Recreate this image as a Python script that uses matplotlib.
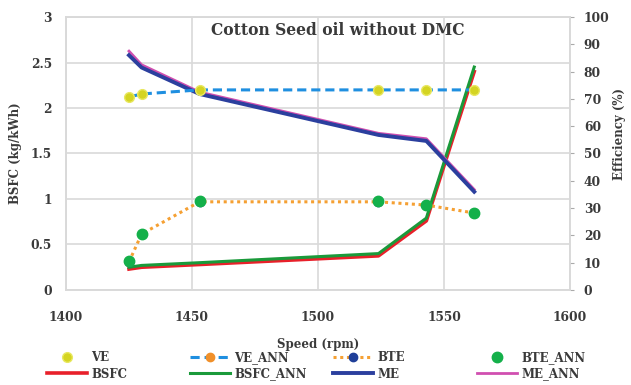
import matplotlib
matplotlib.use("Agg")
import matplotlib.pyplot as plt

speed = [1425, 1430, 1453, 1524, 1543, 1562]
ve = [70.7, 71.8, 73.3, 73.3, 73.3, 73.3]
ve_ann = [70.7, 71.8, 73.3, 73.3, 73.3, 73.3]
bte = [10.3, 20.5, 32.3, 32.3, 31.1, 28.2]
bte_ann = [10.5, 20.6, 32.5, 32.5, 31.2, 28.3]
bsfc = [0.23, 0.25, 0.28, 0.375, 0.76, 2.40]
bsfc_ann = [0.25, 0.27, 0.30, 0.40, 0.79, 2.45]
me = [86.0, 81.5, 71.8, 56.8, 54.6, 36.0]
me_ann = [87.5, 82.5, 72.5, 57.4, 55.4, 36.8]

title = "Cotton Seed oil without DMC"
plt.rcParams['font.family'] = ['DejaVu Serif']
plt.rcParams['font.weight'] = 'bold'
txt_c = '#3a3a3a'

fig = plt.figure(figsize=(6.31, 3.85), dpi=100)
ax = fig.add_axes([0.1046, 0.2468, 0.7987, 0.709])
ax2 = ax.twinx()

grid_c = '#d9d9d9'
ax.set_xlim(1400, 1600)
ax.set_ylim(0, 3)
ax2.set_ylim(0, 100)
ax.set_xticks([1400, 1450, 1500, 1550, 1600])
ax.set_yticks([0, 0.5, 1, 1.5, 2, 2.5, 3])
ax.set_yticklabels(['0', '0.5', '1', '1.5', '2', '2.5', '3'])
ax2.set_yticks(range(0, 101, 10))
ax.grid(True, color=grid_c, lw=1.2)
ax.set_axisbelow(True)
for a in (ax, ax2):
    for s in a.spines.values():
        s.set_color(grid_c)
        s.set_linewidth(1.2)
ax.tick_params(axis='y', length=0, labelsize=8.8, colors=txt_c, pad=10)
ax.tick_params(axis='x', length=0, labelsize=8.8, colors=txt_c, pad=15)
ax2.tick_params(axis='y', length=3, color='#aaaaaa', labelsize=8.8, labelcolor=txt_c, pad=7)

# left axis: BSFC
l_bsfc, = ax.plot(speed, bsfc, color='#e8202a', lw=2.6, zorder=3)
l_bsfc_ann, = ax.plot(speed, bsfc_ann, color='#1a9a3a', lw=2.2, zorder=4)

# right axis: efficiencies
l_me, = ax2.plot(speed, me, color='#2b3f9e', lw=2.8, zorder=3)
l_me_ann, = ax2.plot(speed, me_ann, color='#d04fb0', lw=2.0, zorder=2)
l_ve_ann, = ax2.plot(speed, ve_ann, color='#1f8fe0', lw=2.2, ls=(0, (3, 1.6)),
                     marker='o', ms=6, mfc='#f0902a', mec='#f0902a', zorder=4)
l_ve, = ax2.plot(speed, ve, ls='none', marker='o', ms=7, mfc='#d4d422', mec='#e8e860', zorder=5)
l_bte, = ax2.plot(speed, bte, color='#f5a033', lw=2.2, ls=(0, (1, 1.2)),
                  marker='o', ms=6, mfc='#1f3f99', mec='#1f3f99', zorder=4)
l_bte_ann, = ax2.plot(speed, bte_ann, ls='none', marker='o', ms=7.5, mfc='#14b04a', mec='#14b04a', zorder=5)

ax.text(0.54, 0.952, title, transform=ax.transAxes, ha='center', va='center',
        fontsize=11.2, fontweight='bold', color=txt_c)

ax.set_ylabel('BSFC (kg/kWh)', fontsize=8.5, fontweight='bold', color=txt_c)
ax.yaxis.set_label_coords(-0.087, 0.5)
ax2.set_ylabel('Efficiency (%)', fontsize=8.5, fontweight='bold', color=txt_c)
ax2.yaxis.set_label_coords(1.085, 0.57)
ax.set_xlabel('Speed (rpm)', fontsize=8.5, fontweight='bold', color=txt_c)
ax.xaxis.set_label_coords(0.5, -0.175)

groups = [
    ([l_ve, l_bsfc], ['VE', 'BSFC'], 47),
    ([l_ve_ann, l_bsfc_ann], ['VE_ANN', 'BSFC_ANN'], 190),
    ([l_bte, l_me], ['BTE', 'ME'], 333),
    ([l_bte_ann, l_me_ann], ['BTE_ANN', 'ME_ANN'], 477),
]
for hs, ls, xpx in groups:
    leg = fig.legend(hs, ls, loc='upper left', bbox_to_anchor=(xpx / 631, 1 - 351 / 385),
                     frameon=False, fontsize=8.5, handlelength=3.4, handletextpad=0.35,
                     labelspacing=0.3, borderpad=0, borderaxespad=0)
    for t in leg.get_texts():
        t.set_color(txt_c)

fig.savefig('out.png', dpi=100)
